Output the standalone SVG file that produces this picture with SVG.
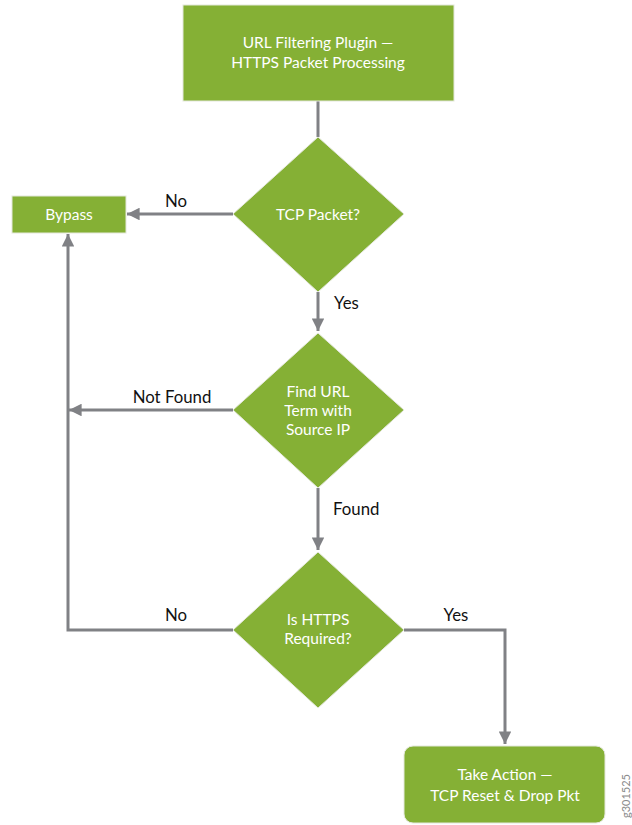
<svg xmlns="http://www.w3.org/2000/svg" width="632" height="825" viewBox="0 0 632 825">
  <defs>
    <marker id="arrow" viewBox="0 0 10 10" refX="10" refY="5" markerWidth="4.2" markerHeight="4.2" orient="auto" markerUnits="strokeWidth">
      <path d="M0,0 L10,5 L0,10 Z" fill="#808185"/>
    </marker>
    <style>
      .node { fill: #85b035; stroke: #e4e8dc; stroke-width: 1; }
      .ntext { font-family: Lato, "Open Sans", sans-serif; font-size: 15.5px; fill: #ffffff; text-anchor: middle; }
      .edge { fill: none; stroke: #808185; stroke-width: 3; }
      .label { font-family: Lato, "Open Sans", sans-serif; font-size: 16.8px; fill: #111111; }
    </style>
  </defs>
  <rect width="632" height="825" fill="#ffffff"/>

  <!-- connectors -->
  <g id="connectors">
    <path class="edge" d="M318,101 V137"/>
    <path class="edge" d="M233,214 H127" marker-end="url(#arrow)"/>
    <path class="edge" d="M318,292 V331" marker-end="url(#arrow)"/>
    <path class="edge" d="M233,410 H69" marker-end="url(#arrow)"/>
    <path class="edge" d="M318,488 V550" marker-end="url(#arrow)"/>
    <path class="edge" d="M233,630 H68 V234" marker-end="url(#arrow)"/>
    <path class="edge" d="M404,630 H505 V744" marker-end="url(#arrow)"/>
    <text class="label" x="176" y="207" text-anchor="middle">No</text>
    <text class="label" x="334" y="309">Yes</text>
    <text class="label" x="172" y="403" text-anchor="middle">Not Found</text>
    <text class="label" x="333" y="515">Found</text>
    <text class="label" x="176" y="621" text-anchor="middle">No</text>
    <text class="label" x="456" y="621" text-anchor="middle">Yes</text>
  </g>

  <!-- start -->
  <g id="start">
    <rect class="node" x="183" y="5" width="271" height="96"/>
    <text class="ntext" x="318" y="48">URL Filtering Plugin —</text>
    <text class="ntext" x="318" y="68">HTTPS Packet Processing</text>
  </g>

  <!-- decision: TCP packet -->
  <g id="tcp-packet">
    <polygon class="node" points="318,137 404,214 318,292 233,214" stroke="none"/>
    <text class="ntext" x="318" y="220">TCP Packet?</text>
  </g>

  <!-- bypass -->
  <g id="bypass">
    <rect class="node" x="12" y="196" width="114" height="37"/>
    <text class="ntext" x="69" y="220">Bypass</text>
  </g>

  <!-- decision: find URL term -->
  <g id="find-url-term">
    <polygon class="node" points="318,333 404,410 318,488 233,410" stroke="none"/>
    <text class="ntext" x="318" y="397">Find URL</text>
    <text class="ntext" x="318" y="416">Term with</text>
    <text class="ntext" x="318" y="435">Source IP</text>
  </g>

  <!-- decision: HTTPS required -->
  <g id="https-required">
    <polygon class="node" points="318,552 404,630 318,708 233,630" stroke="none"/>
    <text class="ntext" x="318" y="625">Is HTTPS</text>
    <text class="ntext" x="318" y="644">Required?</text>
  </g>

  <!-- action -->
  <g id="take-action">
    <rect class="node" x="404" y="746" width="201" height="77" rx="9" ry="9"/>
    <text class="ntext" x="505" y="780">Take Action —</text>
    <text class="ntext" x="505" y="801">TCP Reset &amp; Drop Pkt</text>
  </g>

  <!-- figure id -->
  <text x="630" y="796" transform="rotate(-90 630 796)" font-family="Lato, 'Open Sans', sans-serif" font-size="11px" fill="#8a8a8a" text-anchor="middle">g301525</text>
</svg>
